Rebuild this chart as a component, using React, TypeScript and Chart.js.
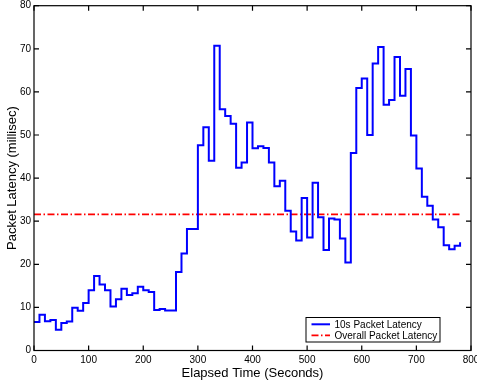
import React, { useEffect, useRef } from 'react';
import { Chart, registerables } from 'chart.js';

Chart.register(...registerables);

// ---- data ----
const timeSeconds = [
  0, 10, 20, 30, 40, 50, 60, 70, 80, 90,
  100, 110, 120, 130, 140, 150, 160, 170, 180, 190,
  200, 210, 220, 230, 240, 250, 260, 270, 280, 290,
  300, 310, 320, 330, 340, 350, 360, 370, 380, 390,
  400, 410, 420, 430, 440, 450, 460, 470, 480, 490,
  500, 510, 520, 530, 540, 550, 560, 570, 580, 590,
  600, 610, 620, 630, 640, 650, 660, 670, 680, 690,
  700, 710, 720, 730, 740, 750, 760, 770, 780,
];
const latency10s = [
  6.6, 8.3, 6.8, 7.1, 4.8, 6.4, 6.7, 9.9, 9.2, 11.0,
  14.0, 17.3, 15.3, 14.0, 10.2, 11.9, 14.3, 12.9, 13.3, 14.8,
  14.0, 13.6, 9.4, 9.6, 9.3, 9.3, 18.2, 22.5, 28.2, 28.2,
  47.6, 51.8, 44.0, 70.7, 56.0, 54.4, 52.6, 42.4, 43.6, 52.9,
  46.9, 47.4, 47.0, 43.6, 38.1, 39.4, 32.4, 27.6, 25.5, 35.4,
  26.2, 38.9, 30.9, 23.3, 30.6, 30.4, 26.0, 20.4, 45.8, 60.9,
  63.1, 50.0, 66.6, 70.4, 57.0, 58.1, 68.1, 59.1, 65.3, 49.9,
  42.2, 35.7, 33.6, 30.4, 28.6, 24.4, 23.5, 24.3, 25.1,
];
const overallLatency = 31.6;
const overallRange = [0, 780];
const xTicks = [0, 100, 200, 300, 400, 500, 600, 700, 800];
const yTicks = [0, 10, 20, 30, 40, 50, 60, 70, 80];
const seriesLabels = ['10s Packet Latency', 'Overall Packet Latency'];
const xTitle = 'Elapsed Time (Seconds)';
const yTitle = 'Packet Latency (millisec)';

const FONT = '"Liberation Sans", Arial, Helvetica, sans-serif';
const DASH_DOT = [7, 2.5, 1.5, 2.5];

const framePlugin = {
  id: 'matlabFrame',
  afterDraw(chart: any) {
    const { ctx, chartArea } = chart;
    const { left, right, top, bottom } = chartArea;
    const xs = chart.scales.x;
    const ys = chart.scales.y;
    ctx.save();
    ctx.strokeStyle = '#000';
    ctx.lineWidth = 1.2;
    ctx.setLineDash([]);
    ctx.strokeRect(left, top, right - left, bottom - top);
    const tl = 5;
    ctx.beginPath();
    xTicks.forEach((v) => {
      const px = xs.getPixelForValue(v);
      ctx.moveTo(px, bottom);
      ctx.lineTo(px, bottom - tl);
      ctx.moveTo(px, top);
      ctx.lineTo(px, top + tl);
    });
    yTicks.forEach((v) => {
      const py = ys.getPixelForValue(v);
      ctx.moveTo(left, py);
      ctx.lineTo(left + tl, py);
      ctx.moveTo(right, py);
      ctx.lineTo(right - tl, py);
    });
    ctx.stroke();

    // legend box (inside axes, lower right)
    const bx1 = right - 31;
    const bx0 = bx1 - 134;
    const by1 = bottom - 8.5;
    const by0 = by1 - 24.5;
    ctx.fillStyle = '#fff';
    ctx.fillRect(bx0, by0, bx1 - bx0, by1 - by0);
    ctx.lineWidth = 1;
    ctx.strokeStyle = '#000';
    ctx.strokeRect(bx0, by0, bx1 - bx0, by1 - by0);
    ctx.font = `10px ${FONT}`;
    ctx.textBaseline = 'middle';
    ctx.textAlign = 'left';
    chart.data.datasets.forEach((ds: any, i: number) => {
      const cy = by0 + 6.8 + i * 11;
      ctx.beginPath();
      ctx.strokeStyle = ds.borderColor;
      ctx.lineWidth = ds.borderWidth;
      ctx.setLineDash(ds.borderDash || []);
      ctx.moveTo(bx0 + 5.5, cy);
      ctx.lineTo(bx0 + 24, cy);
      ctx.stroke();
      ctx.setLineDash([]);
      ctx.fillStyle = '#000';
      ctx.fillText(ds.label, bx0 + 28.5, cy + 0.5);
    });
    ctx.restore();
  },
};

export default function App() {
  const ref = useRef<HTMLCanvasElement | null>(null);

  useEffect(() => {
    if (!ref.current) return;
    Chart.defaults.font.family = FONT;
    Chart.defaults.color = '#000';
    const chart = new Chart(ref.current, {
      type: 'line',
      data: {
        datasets: [
          {
            label: seriesLabels[0],
            data: timeSeconds.map((t, i) => ({ x: t, y: latency10s[i] })),
            borderColor: '#0000ff',
            borderWidth: 2,
            stepped: 'before',
            pointRadius: 0,
            fill: false,
          },
          {
            label: seriesLabels[1],
            data: overallRange.map((t) => ({ x: t, y: overallLatency })),
            borderColor: '#ff0000',
            borderWidth: 1.8,
            borderDash: DASH_DOT,
            pointRadius: 0,
            fill: false,
          },
        ],
      },
      options: {
        responsive: false,
        animation: false,
        events: [],
        layout: { padding: { top: 5.7, right: 6, bottom: 0, left: 0 } },
        plugins: { legend: { display: false }, tooltip: { enabled: false } },
        scales: {
          x: {
            type: 'linear',
            min: 0,
            max: 800,
            afterBuildTicks: (s: any) => {
              s.ticks = xTicks.map((v) => ({ value: v }));
            },
            afterFit: (s: any) => {
              s.height = 32.5;
              s.paddingLeft = 0;
              s.paddingRight = 0;
            },
            grid: { display: false, drawTicks: false },
            border: { display: false },
            ticks: { font: { size: 10 }, padding: 4, maxRotation: 0, autoSkip: false, color: '#000' },
            title: { display: true, text: xTitle, font: { size: 13 }, padding: { top: 0, bottom: 1.5 }, color: '#000' },
          },
          y: {
            type: 'linear',
            min: 0,
            max: 80,
            afterBuildTicks: (s: any) => {
              s.ticks = yTicks.map((v) => ({ value: v }));
            },
            afterFit: (s: any) => {
              s.width = 34;
              s.paddingTop = 0;
              s.paddingBottom = 0;
            },
            grid: { display: false, drawTicks: false },
            border: { display: false },
            ticks: { font: { size: 10 }, padding: 3, autoSkip: false, color: '#000' },
            title: { display: true, text: yTitle, font: { size: 13 }, padding: { top: 4.5, bottom: 0 }, color: '#000' },
          },
        },
      },
      plugins: [framePlugin],
    } as any);
    return () => chart.destroy();
  }, []);

  return (
    <div style={{ position: 'fixed', left: 0, top: 0, width: 477, height: 383, background: '#fff' }}>
      <canvas ref={ref} width={477} height={383} style={{ width: 477, height: 383, display: 'block' }} />
    </div>
  );
}
